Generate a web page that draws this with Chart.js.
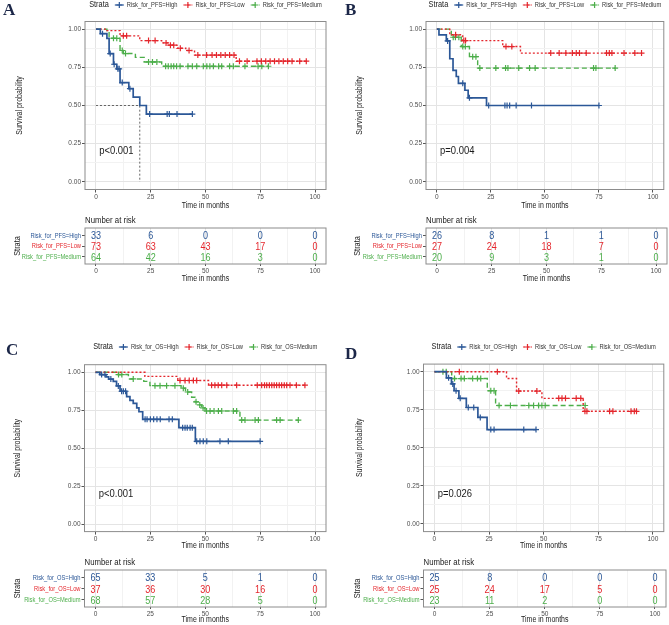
<!DOCTYPE html>
<html>
<head>
<meta charset="utf-8">
<title>Kaplan-Meier curves by risk group</title>
<script src="https://cdn.jsdelivr.net/npm/chart.js@4.4.1/dist/chart.umd.min.js"></script>
<style>
  body { margin: 0; background: #fff; }
  #page { position: relative; width: 669px; height: 625px; overflow: hidden; background: #fff; }
  canvas { position: absolute; }
  .tag { position: absolute; font: bold 17px "Liberation Serif", "DejaVu Serif", serif; color: #1c2748; line-height: 17px; }
</style>
</head>
<body>
<div id="page">
  <canvas id="kmA" style="left:0;top:0" width="335" height="212"></canvas>
  <canvas id="riskA" style="left:0;top:212px" width="335" height="72"></canvas>
  <canvas id="kmB" style="left:335px;top:0" width="334" height="212"></canvas>
  <canvas id="riskB" style="left:335px;top:212px" width="334" height="72"></canvas>
  <canvas id="kmC" style="left:0;top:330px" width="335" height="221"></canvas>
  <canvas id="riskC" style="left:0;top:554px" width="335" height="71"></canvas>
  <canvas id="kmD" style="left:335px;top:330px" width="334" height="221"></canvas>
  <canvas id="riskD" style="left:335px;top:554px" width="334" height="71"></canvas>
  <div class="tag" style="left:3px;top:1px">A</div>
  <div class="tag" style="left:345px;top:1px">B</div>
  <div class="tag" style="left:6px;top:341px">C</div>
  <div class="tag" style="left:345px;top:345px">D</div>
</div>
<script>
// ---- data ----
var timeTicks = [0, 25, 50, 75, 100];
var survTicks = [0, 0.25, 0.5, 0.75, 1];

var pfsStrata = ['Risk_for_PFS=High', 'Risk_for_PFS=Low', 'Risk_for_PFS=Medium'];
var osStrata = ['Risk_for_OS=High', 'Risk_for_OS=Low', 'Risk_for_OS=Medium'];
var pValues = ['p<0.001', 'p=0.004', 'p<0.001', 'p=0.026'];

// A: PFS
var aHighTime = [0, 2, 5, 6, 8, 9.5, 11, 15, 17, 20, 23];
var aHighSurv = [1, 0.97, 0.94, 0.84, 0.77, 0.74, 0.65, 0.61, 0.555, 0.5, 0.444];
var aHighCens = [3, 6.5, 8.3, 10, 10.6, 12, 15.5, 24.5, 32.5, 33.5, 37, 44];
var aHighMedian = 20;
var aLowTime = [0, 5, 11, 20, 30, 33, 37, 41, 45, 64];
var aLowSurv = [1, 0.99, 0.956, 0.925, 0.91, 0.895, 0.875, 0.86, 0.83, 0.79];
var aLowCens = [12.5, 14, 24, 27, 32, 34, 35.5, 38.5, 42.5, 46.5, 50.5, 53, 55, 57, 59, 61, 63, 65.5, 69, 73.5, 75.5, 77.5, 79.5, 81.5, 83.5, 85.5, 87.5, 89.5, 93, 96];
var aMedTime = [0, 5, 6, 11, 12.5, 18, 22, 30];
var aMedSurv = [1, 0.984, 0.94, 0.86, 0.84, 0.815, 0.785, 0.757];
var aMedCens = [8, 9.5, 12, 13.5, 24, 25.8, 27.8, 31.8, 33, 34.3, 35.5, 36.8, 38.4, 42, 44, 46, 49, 50.6, 52, 53.6, 56, 57.4, 61, 62.7, 68, 74, 75.7, 78.7];
var aHighRisk = [33, 6, 0, 0, 0];
var aLowRisk = [73, 63, 43, 17, 0];
var aMedRisk = [64, 42, 16, 3, 0];

// B: PFS
var bHighTime = [0, 1, 4.4, 6, 7.5, 9, 10, 13, 14.5, 23];
var bHighSurv = [1, 0.962, 0.923, 0.806, 0.73, 0.69, 0.645, 0.6, 0.55, 0.5];
var bHighCens = [5, 12, 15.1, 24, 31.5, 32.5, 33.7, 36.7, 43.8, 75];
var bLowTime = [0, 6, 12, 30.5, 38.7];
var bLowSurv = [1, 0.963, 0.925, 0.886, 0.843];
var bLowCens = [8.7, 12.5, 13.3, 32, 34.7, 52.7, 56.6, 59.7, 62.7, 64.5, 66, 69.1, 78.5, 79.8, 81, 86.6, 91.6, 94.7];
var bMedTime = [0, 6.7, 11.3, 15.1, 18.9];
var bMedSurv = [1, 0.947, 0.886, 0.82, 0.745];
var bMedCens = [7.6, 8.6, 10.2, 12, 13.2, 16.6, 18.1, 19.9, 27.3, 31.8, 32.9, 37.9, 42.9, 45.5, 72.5, 73.6, 82.5];
var bHighRisk = [26, 8, 1, 1, 0];
var bLowRisk = [27, 24, 18, 7, 0];
var bMedRisk = [20, 9, 3, 1, 0];

// C: OS
var cHighTime = [0, 2, 4.8, 6, 8.1, 9.6, 11.2, 14.2, 15.7, 17.2, 18.8, 19.8, 21.5, 38, 45.5];
var cHighSurv = [1, 0.985, 0.97, 0.955, 0.94, 0.91, 0.875, 0.84, 0.815, 0.795, 0.765, 0.74, 0.69, 0.635, 0.545];
var cHighCens = [2.8, 4.3, 7, 10.4, 11.9, 12.7, 13.7, 22.6, 23.5, 25, 26.5, 28, 29.5, 33.5, 35, 39.7, 40.8, 41.8, 43.1, 44.1, 46.1, 47.6, 49.1, 50.7, 56.7, 60.5, 75];
var cLowTime = [0, 22.5, 37.5, 51.5];
var cLowSurv = [1, 0.973, 0.946, 0.915];
var cLowCens = [38.5, 40.8, 42.7, 44.6, 46.1, 52.9, 54.4, 55.9, 57.5, 59.8, 64.3, 73.7, 75.7, 77, 78, 79.2, 80.3, 81.4, 82.5, 83.7, 84.8, 86, 87.1, 88.6, 91.5, 95.4];
var cMedTime = [0, 9.6, 15, 22, 24.8, 39, 41, 43.8, 45.3, 46.9, 48.4, 49.9, 65.8];
var cMedSurv = [1, 0.985, 0.956, 0.94, 0.912, 0.895, 0.87, 0.835, 0.805, 0.785, 0.765, 0.745, 0.685];
var cMedCens = [10.5, 12, 17.2, 27.1, 29.4, 32.4, 36.2, 40, 42, 45.8, 47.5, 49, 50.6, 52.2, 54, 56, 57.5, 62.8, 64.3, 66.6, 68.1, 72.7, 74.2, 82.5, 84.1, 92.4];
var cHighRisk = [65, 33, 5, 1, 0];
var cLowRisk = [37, 36, 30, 16, 0];
var cMedRisk = [68, 57, 28, 5, 0];

// D: OS
var dHighTime = [0, 5.5, 7.8, 9, 11.2, 14.6, 19.9, 24.1];
var dHighSurv = [1, 0.96, 0.92, 0.875, 0.825, 0.765, 0.7, 0.62];
var dHighCens = [6.5, 8.4, 9.9, 11.8, 15.5, 18, 21, 25.8, 27.3, 40.9, 46.5];
var dLowTime = [0, 33, 37.6, 49.2, 68.1];
var dLowSurv = [1, 0.955, 0.873, 0.825, 0.74];
var dLowCens = [11.4, 28.8, 38.6, 46.9, 56.9, 58.4, 60, 64.9, 67, 68.9, 69.8, 80.2, 81.7, 90, 91.5, 92.5];
var dMedTime = [0, 7.9, 24.2, 28];
var dMedSurv = [1, 0.955, 0.875, 0.778];
var dMedCens = [3.9, 5.4, 9.2, 12.2, 13.7, 17.5, 19.7, 21.2, 25.8, 27.3, 29.6, 34.8, 43.2, 45.4, 47.7, 49.2, 50.7, 69];
var dHighRisk = [25, 8, 0, 0, 0];
var dLowRisk = [25, 24, 17, 5, 0];
var dMedRisk = [23, 11, 2, 0, 0];

// ---- styles ----
var FONT = '"Liberation Sans", Arial, sans-serif';
var SQUEEZE = 0.82;   // the source figure's text is horizontally condensed
Chart.defaults.font.family = FONT;
Chart.defaults.animation = false;

var lineColors = ['#2b5797', '#e4262c', '#4cae4a'];
var lineWidths = [1.7, 1.4, 1.4];
var lineDash = [[], [2, 2], [5, 3]];

function drawText(ctx, text, x, y, size, color, align, rotated) {
    ctx.save();
    ctx.font = size + 'px ' + FONT;
    ctx.fillStyle = color;
    ctx.textBaseline = 'middle';
    ctx.textAlign = align || 'left';
    var w = ctx.measureText(text).width * SQUEEZE;
    ctx.translate(x, y);
    if (rotated) ctx.rotate(-Math.PI / 2);
    ctx.fillText(text, 0, 0, w);
    ctx.restore();
    return w;
}

function textWidth(ctx, text, size) {
    ctx.save();
    ctx.font = size + 'px ' + FONT;
    var w = ctx.measureText(text).width * SQUEEZE;
    ctx.restore();
    return w;
}

function withMinor(major) {
    var out = [];
    major.forEach(function (v, i) {
        if (i > 0) out.push((major[i - 1] + v) / 2);
        out.push(v);
    });
    return out;
}

function axisGrid(major) {
    return {
        color: function (c) { return major.indexOf(c.tick.value) >= 0 ? '#e4e4e4' : '#f2f2f2'; },
        tickColor: function (c) { return major.indexOf(c.tick.value) >= 0 ? '#555' : 'rgba(0,0,0,0)'; },
        tickLength: 3,
        lineWidth: 1
    };
}

function timeAxis(height, tickLen) {
    var grid = axisGrid(timeTicks);
    grid.tickLength = tickLen;
    return {
        type: 'linear', min: -5, max: 105,
        afterBuildTicks: function (s) { s.ticks = withMinor(timeTicks).map(function (v) { return {value: v}; }); },
        afterFit: function (s) { s.height = height; },
        ticks: {
            autoSkip: false, maxRotation: 0, padding: 1, color: '#4d4d4d', font: {size: 6.5},
            callback: function (v) { return timeTicks.indexOf(v) >= 0 ? String(v) : ''; }
        },
        grid: grid,
        border: {display: false}
    };
}

function survAxis(width) {
    return {
        type: 'linear', min: -0.05, max: 1.05,
        afterBuildTicks: function (s) { s.ticks = withMinor(survTicks).map(function (v) { return {value: v}; }); },
        afterFit: function (s) { s.width = width; },
        ticks: {
            autoSkip: false, padding: 1, color: '#4d4d4d', font: {size: 6.5},
            callback: function (v) { return survTicks.indexOf(v) >= 0 ? v.toFixed(2) : ''; }
        },
        grid: axisGrid(survTicks),
        border: {display: false}
    };
}

var framePlugin = {
    id: 'frame',
    afterDatasetsDraw: function (chart) {
        var a = chart.chartArea, ctx = chart.ctx;
        ctx.save();
        ctx.strokeStyle = '#8c8c8c';
        ctx.lineWidth = 1;
        ctx.strokeRect(a.left, a.top, a.right - a.left, a.bottom - a.top);
        ctx.restore();
    }
};

function stepPoints(times, surv, cens) {
    var pts = times.map(function (t, i) { return {x: t, y: surv[i]}; });
    var last = times[times.length - 1];
    var end = Math.max(last, cens.length ? cens[cens.length - 1] : last);
    if (end > last) pts.push({x: end, y: surv[surv.length - 1]});
    return pts;
}

function survAt(times, surv, t) {
    var s = surv[0];
    for (var i = 0; i < times.length; i++) if (times[i] <= t) s = surv[i];
    return s;
}

// legend, axis titles and p value
function kmTextPlugin(strata, geo, pText) {
    return {
        id: 'kmText',
        afterDraw: function (chart) {
            var ctx = chart.ctx, a = chart.chartArea;
            var y = geo.legendY;
            var tw = textWidth(ctx, 'Strata', 9);
            var widths = strata.map(function (s) { return textWidth(ctx, s, 7); });
            var mark = 9, gapMark = 3, gapItem = 6, gapTitle = 6;
            var total = tw + gapTitle + gapItem * (strata.length - 1) +
                widths.reduce(function (acc, w) { return acc + mark + gapMark + w; }, 0);
            var x = (a.left + a.right) / 2 - total / 2;
            drawText(ctx, 'Strata', x, y, 9, '#1a1a1a');
            x += tw + gapTitle;
            strata.forEach(function (s, i) {
                ctx.save();
                ctx.strokeStyle = lineColors[i];
                ctx.lineWidth = 1.2;
                ctx.setLineDash(lineDash[i]);
                ctx.beginPath(); ctx.moveTo(x, y); ctx.lineTo(x + mark, y); ctx.stroke();
                ctx.setLineDash([]);
                ctx.beginPath();
                ctx.moveTo(x + mark / 2 - 3, y); ctx.lineTo(x + mark / 2 + 3, y);
                ctx.moveTo(x + mark / 2, y - 3); ctx.lineTo(x + mark / 2, y + 3);
                ctx.stroke();
                ctx.restore();
                x += mark + gapMark;
                drawText(ctx, s, x, y, 7, '#333');
                x += widths[i] + gapItem;
            });
            drawText(ctx, 'Time in months', (a.left + a.right) / 2, geo.xTitleY, 8.5, '#1a1a1a', 'center');
            drawText(ctx, 'Survival probability', geo.yTitleX, (a.top + a.bottom) / 2, 8.5, '#1a1a1a', 'center', true);
            drawText(ctx, pText, chart.scales.x.getPixelForValue(1.5), chart.scales.y.getPixelForValue(0.2), 11.5, '#1a1a1a');
        }
    };
}

function kmChart(id, geo, strata, series, pText, median) {
    var datasets = [];
    series.forEach(function (s, i) {
        datasets.push({
            type: 'line', label: strata[i],
            data: stepPoints(s.time, s.surv, s.cens),
            stepped: 'before', borderColor: lineColors[i], borderWidth: lineWidths[i],
            borderDash: lineDash[i], pointRadius: 0, fill: false
        });
        datasets.push({
            type: 'scatter', label: strata[i] + ' censored',
            data: s.cens.map(function (c) { return {x: c, y: survAt(s.time, s.surv, c)}; }),
            pointStyle: 'cross', pointRadius: 3, borderColor: lineColors[i], borderWidth: 1.2
        });
    });
    if (median !== undefined) {
        datasets.push({
            type: 'line', label: 'median',
            data: [{x: 0, y: 0.5}, {x: median, y: 0.5}, {x: median, y: 0}],
            borderColor: '#555', borderWidth: 0.9, borderDash: [2, 2], pointRadius: 0, fill: false
        });
    }
    return new Chart(document.getElementById(id), {
        type: 'scatter',
        data: {datasets: datasets},
        options: {
            responsive: false,
            events: [],
            layout: {padding: {top: geo.padTop, right: geo.padRight, left: 0, bottom: 0}},
            plugins: {legend: {display: false}, tooltip: {enabled: false}},
            scales: {x: timeAxis(geo.xH, 3), y: survAxis(geo.yW)}
        },
        plugins: [framePlugin, kmTextPlugin(strata, geo, pText)]
    });
}

function riskChart(id, geo, strata, risks) {
    var rows = strata.map(function (s, i) { return i; });
    var datasets = strata.map(function (s, i) {
        return {
            label: s,
            data: timeTicks.map(function (t, j) { return {x: t, y: i, n: risks[i][j]}; }),
            pointRadius: 0
        };
    });
    var tableText = {
        id: 'tableText',
        afterDatasetsDraw: function (chart) {
            var ctx = chart.ctx, a = chart.chartArea, ys = chart.scales.y;
            chart.data.datasets.forEach(function (ds, i) {
                chart.getDatasetMeta(i).data.forEach(function (pt, j) {
                    drawText(ctx, String(ds.data[j].n), pt.x, pt.y + 1, 11, lineColors[i], 'center');
                });
                drawText(ctx, strata[i], ys.right - 4, ys.getPixelForValue(i) + 0.5, 7, lineColors[i], 'right');
            });
            drawText(ctx, 'Number at risk', a.left, a.top - 7.5, 9.5, '#1a1a1a');
            drawText(ctx, 'Time in months', (a.left + a.right) / 2, geo.xTitleY, 8.5, '#1a1a1a', 'center');
            drawText(ctx, 'Strata', geo.yTitleX, (a.top + a.bottom) / 2, 9, '#1a1a1a', 'center', true);
        }
    };
    return new Chart(document.getElementById(id), {
        type: 'scatter',
        data: {datasets: datasets},
        options: {
            responsive: false,
            events: [],
            layout: {padding: {top: geo.padTop, right: geo.padRight, left: 0, bottom: 0}},
            plugins: {legend: {display: false}, tooltip: {enabled: false}},
            scales: {
                x: timeAxis(geo.xH, 2),
                y: {
                    type: 'linear', reverse: true, min: -0.65, max: rows.length - 0.35,
                    afterBuildTicks: function (s) { s.ticks = rows.map(function (v) { return {value: v}; }); },
                    afterFit: function (s) { s.width = geo.yW; },
                    ticks: {autoSkip: false, callback: function () { return ''; }},
                    grid: {drawOnChartArea: false, tickLength: 3, tickColor: '#555'},
                    border: {display: false}
                }
            }
        },
        plugins: [framePlugin, tableText]
    });
}

// ---- panels ----
kmChart('kmA', {padTop: 21.5, padRight: 9, yW: 85, xH: 22.5, yTitleX: 20, xTitleY: 206, legendY: 5}, pfsStrata, [
    {time: aHighTime, surv: aHighSurv, cens: aHighCens},
    {time: aLowTime, surv: aLowSurv, cens: aLowCens},
    {time: aMedTime, surv: aMedSurv, cens: aMedCens}
], pValues[0], aHighMedian);
riskChart('riskA', {padTop: 16, padRight: 9, yW: 85, xH: 20, yTitleX: 18, xTitleY: 67}, pfsStrata, [aHighRisk, aLowRisk, aMedRisk]);

kmChart('kmB', {padTop: 21.5, padRight: 2, yW: 91, xH: 22.5, yTitleX: 25, xTitleY: 206, legendY: 5}, pfsStrata, [
    {time: bHighTime, surv: bHighSurv, cens: bHighCens},
    {time: bLowTime, surv: bLowSurv, cens: bLowCens},
    {time: bMedTime, surv: bMedSurv, cens: bMedCens}
], pValues[1]);
riskChart('riskB', {padTop: 16, padRight: 2, yW: 91, xH: 20, yTitleX: 23, xTitleY: 67}, pfsStrata, [bHighRisk, bLowRisk, bMedRisk]);

kmChart('kmC', {padTop: 34.7, padRight: 9, yW: 84.5, xH: 19.4, yTitleX: 18, xTitleY: 216, legendY: 17}, osStrata, [
    {time: cHighTime, surv: cHighSurv, cens: cHighCens},
    {time: cLowTime, surv: cLowSurv, cens: cLowCens},
    {time: cMedTime, surv: cMedSurv, cens: cMedCens}
], pValues[2]);
riskChart('riskC', {padTop: 16, padRight: 9, yW: 84.5, xH: 18, yTitleX: 18, xTitleY: 66}, osStrata, [cHighRisk, cLowRisk, cMedRisk]);

kmChart('kmD', {padTop: 34.1, padRight: 3, yW: 88.5, xH: 19.4, yTitleX: 25, xTitleY: 216, legendY: 17}, osStrata, [
    {time: dHighTime, surv: dHighSurv, cens: dHighCens},
    {time: dLowTime, surv: dLowSurv, cens: dLowCens},
    {time: dMedTime, surv: dMedSurv, cens: dMedCens}
], pValues[3]);
riskChart('riskD', {padTop: 16, padRight: 3, yW: 88.5, xH: 18, yTitleX: 23, xTitleY: 66}, osStrata, [dHighRisk, dLowRisk, dMedRisk]);
</script>
</body>
</html>
